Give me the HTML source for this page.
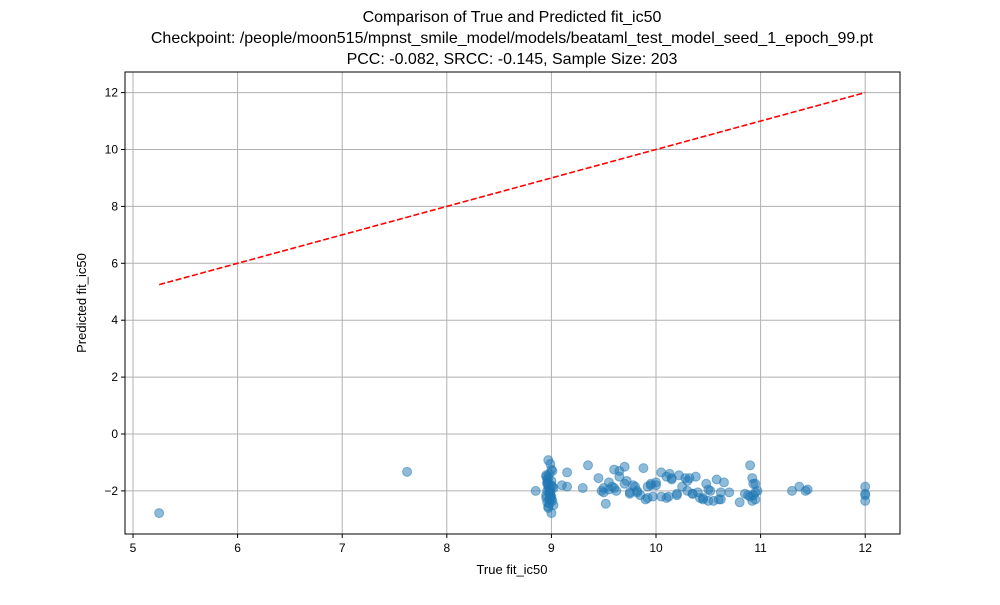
<!DOCTYPE html>
<html><head><meta charset="utf-8"><style>
body{margin:0;background:#fff;}
svg text{font-family:"Liberation Sans","DejaVu Sans",sans-serif;}
</style></head><body>
<svg id="chart" width="1000" height="600">
<text x="512" y="22" font-size="16" text-anchor="middle">Comparison of True and Predicted fit_ic50</text>
<text x="512" y="43" font-size="16" text-anchor="middle">Checkpoint: /people/moon515/mpnst_smile_model/models/beataml_test_model_seed_1_epoch_99.pt</text>
<text x="512" y="64" font-size="16" text-anchor="middle">PCC: -0.082, SRCC: -0.145, Sample Size: 203</text>
<g id="grid"></g><g id="marks"></g><g id="axes"></g>
<text x="512" y="574" font-size="13" text-anchor="middle">True fit_ic50</text>
<text transform="translate(86,303) rotate(-90)" font-size="13" text-anchor="middle">Predicted fit_ic50</text>
</svg>
<script>
const xTicks=[5,6,7,8,9,10,11,12];
const yTicks=[-2,0,2,4,6,8,10,12];
const trueVals=[5.25,7.62,8.97,9.0,8.95,8.96,8.97,8.98,8.99,9.0,9.01,9.02,8.95,8.96,8.97,8.98,8.99,9.0,9.01,8.96,8.97,8.98,8.99,9.0,8.95,8.97,8.98,9.0,9.01,8.96,8.98,8.99,8.85,8.95,9.0,8.97,8.99,9.02,8.96,8.98,
9.1,9.15,9.15,9.3,9.35,9.45,9.48,9.5,9.52,9.55,9.58,9.6,9.62,9.65,9.7,9.72,9.75,9.78,9.8,9.82,9.88,9.9,9.92,9.95,9.97,10.0,10.05,10.1,10.12,10.13,10.15,10.2,10.22,10.25,10.28,10.3,10.32,10.35,10.38,10.4,10.45,10.48,10.5,10.52,10.55,10.58,10.62,10.65,10.7,10.8,10.85,10.9,10.92,10.93,10.95,10.97,10.9,10.92,10.95,10.93,
9.5,9.6,9.7,9.85,9.95,10.05,10.15,10.3,10.42,10.6,9.55,9.75,9.92,10.1,10.35,10.5,9.65,9.82,10.0,10.2,10.45,10.62,10.88,10.95,
11.3,11.37,11.43,11.45,12.0,12.0,12.0,12.0];
const predVals=[-2.78,-1.33,-0.92,-2.78,-1.45,-1.6,-1.75,-1.9,-2.05,-2.2,-2.35,-2.5,-1.5,-1.7,-1.85,-2.0,-2.15,-2.3,-1.3,-2.4,-2.55,-2.1,-1.95,-1.8,-2.25,-1.55,-1.4,-1.65,-1.85,-2.0,-2.45,-2.2,-2.0,-2.15,-1.25,-2.6,-1.05,-1.9,-1.75,-2.3,
-1.8,-1.35,-1.85,-1.9,-1.1,-1.55,-2.0,-1.9,-2.45,-1.7,-1.85,-1.25,-2.0,-1.3,-1.15,-1.65,-2.1,-1.8,-1.85,-2.05,-1.2,-2.3,-1.85,-1.8,-2.2,-1.7,-1.35,-1.5,-2.2,-1.4,-1.6,-2.15,-1.45,-1.85,-1.55,-2.0,-1.55,-2.1,-1.5,-2.05,-2.25,-1.75,-2.35,-2.0,-2.35,-1.6,-2.05,-1.7,-2.05,-2.4,-2.1,-1.1,-1.55,-1.75,-2.3,-2.0,-2.2,-2.35,-1.75,-2.15,
-2.05,-1.9,-1.75,-2.15,-1.75,-2.2,-1.55,-1.65,-2.25,-2.3,-1.95,-2.05,-2.25,-2.25,-2.1,-1.95,-1.5,-2.0,-1.8,-2.1,-2.3,-2.3,-2.15,-2.05,
-2.0,-1.85,-2.0,-1.95,-1.85,-2.1,-2.15,-2.35];
const NS='http://www.w3.org/2000/svg';
const L=125,R=900,T=72,B=534;
const sx=v=>133+(v-5)*104.6;
const sy=v=>434-v*28.45;
function mk(tag,attrs,parent){const e=document.createElementNS(NS,tag);for(const k in attrs)e.setAttribute(k,attrs[k]);document.getElementById(parent).appendChild(e);return e;}
xTicks.forEach(t=>{
 const g=mk('line',{x1:sx(t),x2:sx(t),y1:T,y2:B,stroke:'#b0b0b0','stroke-width':1},'grid');
 
 
 const tk=mk('line',{x1:sx(t),x2:sx(t),y1:B,y2:B+4,stroke:'#000'},'axes');
 
 
 const tx=mk('text',{x:sx(t),y:B+18,'font-size':12,'text-anchor':'middle'},'axes');tx.textContent=t;
 
 
});
yTicks.forEach(t=>{
 const g=mk('line',{x1:L,x2:R,y1:sy(t),y2:sy(t),stroke:'#b0b0b0','stroke-width':1},'grid');
 
 
 const tk=mk('line',{x1:L-4,x2:L,y1:sy(t),y2:sy(t),stroke:'#000'},'axes');
 
 
 const tx=mk('text',{x:L-7,y:sy(t)+4,'font-size':12,'text-anchor':'end'},'axes');tx.textContent=(t<0?'\u2212'+(-t):t);
 
 
});
trueVals.forEach((x,i)=>{
 const c=mk('circle',{cx:sx(x),cy:sy(predVals[i]),r:4.5,fill:'#1f77b4','fill-opacity':0.5,stroke:'#1f77b4','stroke-opacity':0.5},'marks');
 
 
});
const mn=Math.min(...trueVals),mx=Math.max(...trueVals);
const ln=mk('line',{x1:sx(mn),y1:sy(mn),x2:sx(mx),y2:sy(mx),stroke:'#ff0000','stroke-width':1.6,'stroke-dasharray':'6,2.5'},'marks');


const fr=mk('rect',{x:L,y:T,width:R-L,height:B-T,fill:'none',stroke:'#000','stroke-width':1},'axes');


</script>
</body></html>
